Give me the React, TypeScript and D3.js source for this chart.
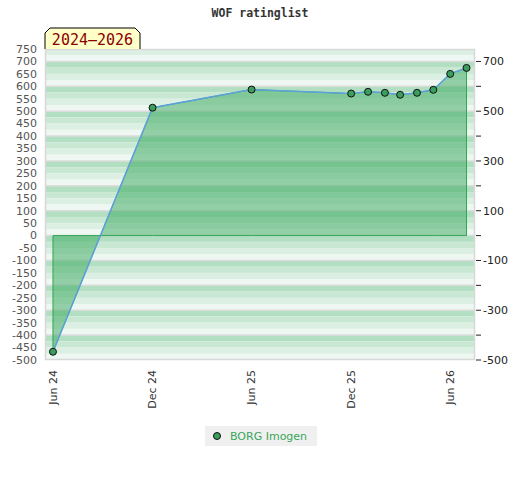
import React, { useEffect, useRef } from "react";
import * as d3 from "d3";

// data
const dates = [
  "2024-06-01", "2024-12-01", "2025-06-01", "2025-12-01", "2026-01-01", "2026-02-01",
  "2026-03-01", "2026-04-01", "2026-05-01", "2026-06-01", "2026-07-01",
];
const ratings = [-467, 514, 587, 571, 578, 574, 566, 574, 586, 650, 674];
const xTickDates = ["2024-06-01", "2024-12-01", "2025-06-01", "2025-12-01", "2026-06-01"];
const xTickLabels = ["Jun 24", "Dec 24", "Jun 25", "Dec 25", "Jun 26"];
const leftTicks = d3.range(-500, 751, 50);
const rightLabelTicks = [700, 500, 300, 100, -100, -300, -500];
const rightMinorTicks = d3.range(-500, 701, 100);
const seriesName = "BORG Imogen";
const periodLabel = "2024–2026";
const title = "WOF ratinglist";

const W = 520;
const H = 480;

const App = () => {
  const svgRef = useRef(null);

  useEffect(() => {
    const svg = d3.select(svgRef.current);
    svg.selectAll("*").remove();

    const left = 45, right = 475, top = 49, bottom = 360;
    const x = d3
      .scaleUtc()
      .domain([new Date(Date.UTC(2024, 4, 17, 8)), new Date(Date.UTC(2026, 6, 16, 14))])
      .range([left, right]);
    const y = d3.scaleLinear().domain([-500, 750]).range([bottom, top]);

    const parse = (s) => new Date(s + "T00:00:00Z");
    const pts = dates.map((d, i) => ({ date: parse(d), v: ratings[i] }));

    // striped background: 4 bands per 100 units
    const bandColors = ["#b2dec2", "#c9e8d4", "#dcefe3", "#eef7f1"];
    const bg = svg.append("g");
    for (let v = 800; v > -500; v -= 100) {
      bandColors.forEach((c, j) => {
        const hi = Math.min(750, v - j * 25);
        const lo = Math.max(-500, v - (j + 1) * 25);
        if (hi <= lo) return;
        bg.append("rect")
          .attr("x", left)
          .attr("width", right - left)
          .attr("y", y(hi))
          .attr("height", y(lo) - y(hi))
          .attr("fill", c);
      });
      if (v <= 750 && v > -500) {
        bg.append("line")
          .attr("x1", left).attr("x2", right)
          .attr("y1", y(v)).attr("y2", y(v))
          .attr("stroke", "#dcdcdc")
          .attr("stroke-width", 1.5);
      }
    }

    // frame
    svg.append("rect")
      .attr("x", left + 0.5).attr("y", top + 0.5)
      .attr("width", right - left - 1).attr("height", bottom - top - 1)
      .attr("fill", "none")
      .attr("stroke", "#d8d8d8")
      .attr("stroke-width", 1.5);

    // area down to zero
    const area = d3
      .area()
      .x((d) => x(d.date))
      .y0(y(0))
      .y1((d) => y(d.v));
    svg.append("path")
      .datum(pts)
      .attr("d", area)
      .attr("fill", "#38a75c")
      .attr("fill-opacity", 0.5)
      .attr("stroke", "#2ea654")
      .attr("stroke-width", 1);

    const line = d3
      .line()
      .x((d) => x(d.date))
      .y((d) => y(d.v));
    svg.append("path")
      .datum(pts)
      .attr("d", line)
      .attr("fill", "none")
      .attr("stroke", "#5fa0dc")
      .attr("stroke-width", 1.5);

    svg.append("g")
      .selectAll("circle")
      .data(pts)
      .join("circle")
      .attr("cx", (d) => x(d.date))
      .attr("cy", (d) => y(d.v))
      .attr("r", 3.5)
      .attr("fill", "#3a9e5c")
      .attr("stroke", "#111")
      .attr("stroke-width", 1);

    // left axis labels
    svg.append("g")
      .selectAll("text")
      .data(leftTicks)
      .join("text")
      .attr("x", 37)
      .attr("y", (d) => y(d))
      .attr("dy", "0.35em")
      .attr("text-anchor", "end")
      .attr("font-family", "DejaVu Sans")
      .attr("font-size", 11)
      .attr("fill", "#555")
      .text((d) => d);

    // right axis
    const rAxis = svg.append("g");
    rAxis.selectAll("line")
      .data(rightMinorTicks)
      .join("line")
      .attr("x1", right + 1).attr("x2", right + 6)
      .attr("y1", (d) => y(d)).attr("y2", (d) => y(d))
      .attr("stroke", "#222")
      .attr("stroke-width", 1);
    rAxis.selectAll("text")
      .data(rightLabelTicks)
      .join("text")
      .attr("x", right + 8)
      .attr("y", (d) => y(d))
      .attr("dy", "0.35em")
      .attr("font-family", "DejaVu Sans")
      .attr("font-size", 11)
      .attr("fill", "#222")
      .text((d) => d);

    // x labels (rotated)
    svg.append("g")
      .selectAll("text")
      .data(xTickDates)
      .join("text")
      .attr("transform", (d) => `translate(${x(parse(d))},370) rotate(-90)`)
      .attr("dy", "0.35em")
      .attr("text-anchor", "end")
      .attr("font-family", "DejaVu Sans")
      .attr("font-size", 11)
      .attr("fill", "#333")
      .text((d, i) => xTickLabels[i]);

    // title
    svg.append("text")
      .attr("x", W / 2)
      .attr("y", 17)
      .attr("text-anchor", "middle")
      .attr("font-family", "DejaVu Sans Mono")
      .attr("font-weight", "bold")
      .attr("font-size", 11.5)
      .attr("fill", "#333")
      .text(title);

    // period label tab
    const tx0 = 45, tx1 = 140, ty0 = 28, ty1 = 49, c = 5;
    svg.append("path")
      .attr("d", `M${tx0},${ty1} L${tx0},${ty0 + c} L${tx0 + c},${ty0} L${tx1 - c},${ty0} L${tx1},${ty0 + c} L${tx1},${ty1}`)
      .attr("fill", "#ffffc8")
      .attr("stroke", "#000")
      .attr("stroke-width", 1);
    svg.append("text")
      .attr("x", (tx0 + tx1) / 2)
      .attr("y", 45)
      .attr("text-anchor", "middle")
      .attr("font-family", "DejaVu Sans Mono")
      .attr("font-size", 15)
      .attr("fill", "#8b0000")
      .text(periodLabel);

    // legend
    const lg = svg.append("g");
    lg.append("rect")
      .attr("x", 205).attr("y", 426)
      .attr("width", 112).attr("height", 20)
      .attr("fill", "#f0f0f0");
    lg.append("circle")
      .attr("cx", 217).attr("cy", 436)
      .attr("r", 3.5)
      .attr("fill", "#3a9e5c")
      .attr("stroke", "#111");
    lg.append("text")
      .attr("x", 230).attr("y", 436)
      .attr("dy", "0.35em")
      .attr("font-family", "DejaVu Sans")
      .attr("font-size", 11)
      .attr("fill", "#3aa65a")
      .text(seriesName);
  }, []);

  return (
    <svg
      ref={svgRef}
      width={W}
      height={H}
      style={{ position: "absolute", left: 0, top: 0, background: "#fff" }}
    />
  );
};

export default App;
